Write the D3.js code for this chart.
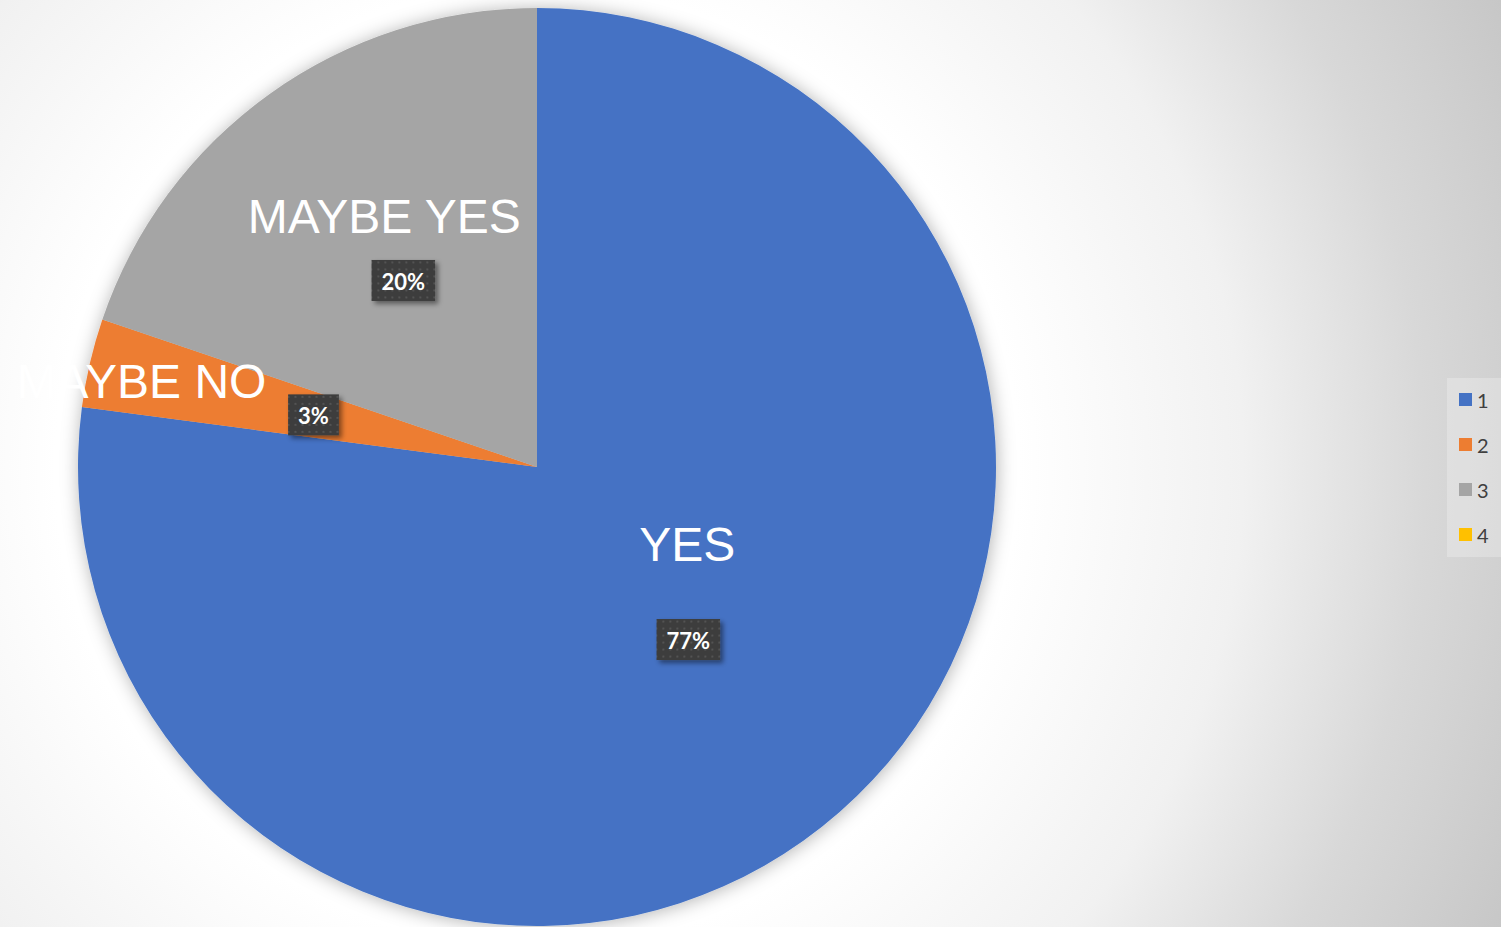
<!DOCTYPE html>
<html>
<head>
<meta charset="utf-8">
<title>Pie chart</title>
<script src="https://cdn.jsdelivr.net/npm/d3@7"></script>
<style>
  html, body { margin: 0; padding: 0; background: #fff; }
  #chart { width: 1501px; height: 927px; }
</style>
</head>
<body>
<div id="chart"></div>
<script>
(function () {
  "use strict";

  const WIDTH = 1501;
  const HEIGHT = 927;

  // chart data
  const categories = ["1", "2", "3", "4"];
  const counts = [74, 3, 19, 0];
  const sliceNames = ["YES", "MAYBE NO", "MAYBE YES", ""];
  const sliceColors = ["#4472C4", "#ED7D31", "#A5A5A5", "#FFC000"];

  // hand-placed name labels, offset from the slice's value label
  const nameOffsets = [
    [-1, -95],
    [-172, -33],
    [-19, -64],
    [0, 0],
  ];

  const pieCenter = { x: 537, y: 467 };
  const radius = 459;

  const svg = d3
    .select("#chart")
    .append("svg")
    .attr("width", WIDTH)
    .attr("height", HEIGHT)
    .attr("viewBox", `0 0 ${WIDTH} ${HEIGHT}`);

  const defs = svg.append("defs");

  const bg = defs
    .append("radialGradient")
    .attr("id", "bg-grad")
    .attr("gradientUnits", "userSpaceOnUse")
    .attr("cx", pieCenter.x)
    .attr("cy", pieCenter.y)
    .attr("r", 1070);
  [
    [0, "#ffffff"],
    [0.45, "#ffffff"],
    [0.66, "#f1f1f1"],
    [0.83, "#d8d8d8"],
    [1, "#c7c7c7"],
  ].forEach(([o, c]) => bg.append("stop").attr("offset", o).attr("stop-color", c));

  const pieShadow = defs
    .append("filter")
    .attr("id", "pie-shadow")
    .attr("x", "-10%")
    .attr("y", "-10%")
    .attr("width", "120%")
    .attr("height", "120%");
  pieShadow
    .append("feDropShadow")
    .attr("dx", 1)
    .attr("dy", 1)
    .attr("stdDeviation", 9)
    .attr("flood-color", "#000")
    .attr("flood-opacity", 0.3);

  const boxShadow = defs
    .append("filter")
    .attr("id", "box-shadow")
    .attr("x", "-30%")
    .attr("y", "-30%")
    .attr("width", "160%")
    .attr("height", "160%");
  boxShadow
    .append("feDropShadow")
    .attr("dx", 3)
    .attr("dy", 3)
    .attr("stdDeviation", 2.5)
    .attr("flood-color", "#000")
    .attr("flood-opacity", 0.45);

  const dots = defs
    .append("pattern")
    .attr("id", "box-dots")
    .attr("patternUnits", "userSpaceOnUse")
    .attr("width", 7)
    .attr("height", 7);
  dots.append("rect").attr("width", 7).attr("height", 7).attr("fill", "#3d3d3d");
  dots.append("rect").attr("x", 2).attr("y", 2).attr("width", 2).attr("height", 2).attr("fill", "#525252");

  svg.append("rect").attr("width", WIDTH).attr("height", HEIGHT).attr("fill", "url(#bg-grad)");

  // pie
  const total = d3.sum(counts);
  const rows = categories.map((c, i) => ({
    category: c,
    value: counts[i],
    name: sliceNames[i],
    color: sliceColors[i],
    offset: nameOffsets[i],
  }));

  const pie = d3.pie().value((d) => d.value).sort(null);
  const arc = d3.arc().innerRadius(0).outerRadius(radius);
  const arcs = pie(rows);

  const g = svg.append("g").attr("transform", `translate(${pieCenter.x},${pieCenter.y})`);

  g.append("g")
    .attr("filter", "url(#pie-shadow)")
    .selectAll("path")
    .data(arcs.filter((d) => d.data.value > 0))
    .join("path")
    .attr("d", arc)
    .attr("fill", (d) => d.data.color);

  const labelled = arcs.filter((d) => d.data.value > 0);

  // slice names
  g.selectAll("text.name")
    .data(labelled)
    .join("text")
    .attr("class", "name")
    .attr("x", (d) => arc.centroid(d)[0] + d.data.offset[0])
    .attr("y", (d) => arc.centroid(d)[1] + d.data.offset[1])
    .attr("text-anchor", "middle")
    .attr("dominant-baseline", "central")
    .attr("fill", "#ffffff")
    .style("font-family", "'Liberation Sans', Arial, sans-serif")
    .style("font-size", "48px")
    .text((d) => d.data.name);

  // value labels in dark boxes
  const valueLabels = g
    .selectAll("g.value")
    .data(labelled)
    .join("g")
    .attr("class", "value")
    .attr("transform", (d) => `translate(${arc.centroid(d)})`);

  valueLabels.each(function (d) {
    const sel = d3.select(this);
    const pct = Math.round((d.data.value / total) * 100) + "%";
    const txt = sel
      .append("text")
      .attr("text-anchor", "middle")
      .attr("dominant-baseline", "central")
      .attr("y", 1)
      .attr("fill", "#ffffff")
      .style("font-family", "Lato, 'Open Sans', sans-serif")
      .style("font-weight", "bold")
      .style("font-size", "22px")
      .text(pct);
    const bb = txt.node().getBBox();
    const w = bb.width + 20;
    const h = 41;
    sel
      .insert("rect", "text")
      .attr("x", -w / 2)
      .attr("y", -h / 2)
      .attr("width", w)
      .attr("height", h)
      .attr("fill", "url(#box-dots)")
      .attr("filter", "url(#box-shadow)");
  });

  // legend
  const legend = svg.append("g").attr("transform", "translate(1447,378)");
  legend
    .append("rect")
    .attr("width", 60)
    .attr("height", 179)
    .attr("fill", "#ffffff")
    .attr("fill-opacity", 0.25);

  const legendY = d3
    .scalePoint()
    .domain(categories)
    .range([22, 157]);

  const items = legend
    .selectAll("g.item")
    .data(rows)
    .join("g")
    .attr("class", "item")
    .attr("transform", (d) => `translate(0,${legendY(d.category)})`);

  items
    .append("rect")
    .attr("x", 12)
    .attr("y", -7)
    .attr("width", 13)
    .attr("height", 13)
    .attr("fill", (d) => d.color);

  items
    .append("text")
    .attr("x", 30)
    .attr("y", 0)
    .attr("dominant-baseline", "central")
    .attr("fill", "#404040")
    .style("font-family", "Lato, 'Open Sans', sans-serif")
    .style("font-size", "20px")
    .text((d) => d.category);
})();
</script>
</body>
</html>
